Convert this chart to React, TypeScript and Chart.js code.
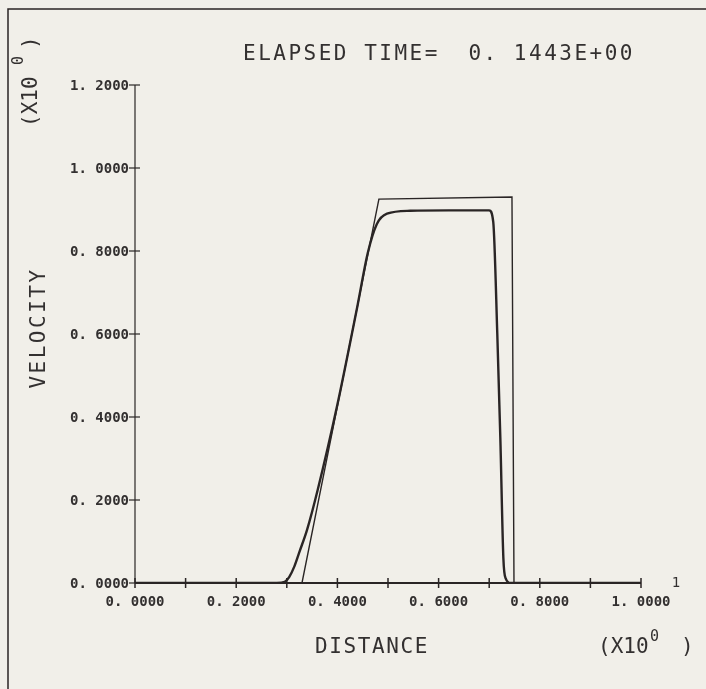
import React, { useEffect, useRef } from "react";
import { Chart, registerables } from "chart.js";

Chart.register(...registerables);

// Exact (analytic) solution - thin line
const exactX = [0, 0.33, 0.482, 0.745, 0.749, 1.0];
const exactY = [0, 0, 0.925, 0.93, 0, 0];

// Numerical solution - thick line
const numX = [0, 0.28, 0.296, 0.305, 0.315, 0.325, 0.34, 0.361, 0.40, 0.44, 0.46, 0.478, 0.498, 0.544, 0.62, 0.70, 0.708, 0.716, 0.722, 0.728, 0.733, 0.742, 1.0];
const numY = [0, 0, 0.003, 0.015, 0.04, 0.075, 0.128, 0.224, 0.43, 0.67, 0.795, 0.865, 0.89, 0.897, 0.898, 0.898, 0.87, 0.6, 0.35, 0.06, 0.01, 0, 0];

const xTickValues = [0, 0.1, 0.2, 0.3, 0.4, 0.5, 0.6, 0.7, 0.8, 0.9, 1.0];
const xTickLabels = ["0. 0000", "", "0. 2000", "", "0. 4000", "", "0. 6000", "", "0. 8000", "", "1. 0000"];
const yTickValues = [0, 0.2, 0.4, 0.6, 0.8, 1.0, 1.2];
const yTickLabels = ["0. 0000", "0. 2000", "0. 4000", "0. 6000", "0. 8000", "1. 0000", "1. 2000"];

const titleLeft = "ELAPSED TIME=";
const titleRight = "0. 1443E+00";
const xTitle = "DISTANCE";
const yTitle = "VELOCITY";
const expBase = "(X10";
const expPow = "0";
const expClose = ")";
const axisEndLabel = "1";

const INK = "#2a2525";
const BG = "#f1efe9";
const TXT = "#333030";
const MONO = '"DejaVu Sans Mono", monospace';

const decor = {
  id: "decor",
  beforeDraw(chart: any) {
    const ctx = chart.ctx;
    ctx.save();
    ctx.fillStyle = BG;
    ctx.fillRect(0, 0, chart.width, chart.height);
    ctx.strokeStyle = INK;
    ctx.lineWidth = 1.5;
    ctx.beginPath();
    ctx.moveTo(8, chart.height);
    ctx.lineTo(8, 9);
    ctx.lineTo(chart.width, 9);
    ctx.stroke();
    ctx.restore();
  },
  beforeDatasetsDraw(chart: any) {
    const ctx = chart.ctx;
    const xs = chart.scales.x;
    const ys = chart.scales.y;
    const x0 = xs.getPixelForValue(0);
    const x1 = xs.getPixelForValue(1);
    const y0 = ys.getPixelForValue(0);
    const yTop = ys.getPixelForValue(1.2);
    ctx.save();
    ctx.strokeStyle = INK;
    ctx.lineWidth = 1.2;
    ctx.beginPath();
    ctx.moveTo(x0, y0);
    ctx.lineTo(x0, yTop);
    ctx.stroke();
    yTickValues.forEach((v) => {
      const py = ys.getPixelForValue(v);
      ctx.beginPath();
      ctx.moveTo(x0 - 6, py);
      ctx.lineTo(x0 + 5, py);
      ctx.stroke();
    });
    ctx.lineWidth = 2.2;
    ctx.beginPath();
    ctx.moveTo(x0, y0);
    ctx.lineTo(x1, y0);
    ctx.stroke();
    ctx.lineWidth = 1.5;
    xTickValues.forEach((v) => {
      const px = xs.getPixelForValue(v);
      ctx.beginPath();
      ctx.moveTo(px, y0 - 5);
      ctx.lineTo(px, y0 + 5);
      ctx.stroke();
    });
    ctx.restore();
  },
  afterDraw(chart: any) {
    const ctx = chart.ctx;
    const xs = chart.scales.x;
    const ys = chart.scales.y;
    const x0 = xs.getPixelForValue(0);
    const x1 = xs.getPixelForValue(1);
    const y0 = ys.getPixelForValue(0);
    ctx.save();
    ctx.fillStyle = TXT;
    ctx.font = "bold 14px " + MONO;
    ctx.textBaseline = "middle";
    ctx.textAlign = "right";
    yTickValues.forEach((v, i) => {
      ctx.fillText(yTickLabels[i], x0 - 6, ys.getPixelForValue(v) + 1);
    });
    ctx.textAlign = "center";
    xTickValues.forEach((v, i) => {
      if (xTickLabels[i]) ctx.fillText(xTickLabels[i], xs.getPixelForValue(v), y0 + 19);
    });
    ctx.font = "14px " + MONO;
    ctx.fillText(axisEndLabel, x1 + 35, y0);

    ctx.font = "21px " + MONO;
    ctx.letterSpacing = "2.5px";
    ctx.textAlign = "left";
    ctx.fillText(titleLeft, 243, 55);
    ctx.textAlign = "right";
    ctx.fillText(titleRight, 635, 55);

    ctx.letterSpacing = "1.6px";
    ctx.textAlign = "center";
    ctx.fillText(xTitle, 372, 648);

    ctx.letterSpacing = "0px";
    ctx.textAlign = "left";
    ctx.fillText(expBase, 598, 648);
    ctx.font = "15px " + MONO;
    ctx.fillText(expPow, 650, 637);
    ctx.font = "21px " + MONO;
    ctx.fillText(expClose, 681, 648);

    ctx.save();
    ctx.translate(40, 328);
    ctx.rotate(-Math.PI / 2);
    ctx.textAlign = "center";
    ctx.letterSpacing = "2.5px";
    ctx.fillText(yTitle, 0, 0);
    ctx.restore();

    ctx.save();
    ctx.translate(32, 127);
    ctx.rotate(-Math.PI / 2);
    ctx.textAlign = "left";
    ctx.letterSpacing = "0px";
    ctx.fillText(expBase, 0, 0);
    ctx.font = "15px " + MONO;
    ctx.fillText(expPow, 62, -13);
    ctx.font = "21px " + MONO;
    ctx.fillText(expClose, 78, 0);
    ctx.restore();

    ctx.restore();
  },
};

export default function App() {
  const ref = useRef<HTMLCanvasElement>(null);
  useEffect(() => {
    document.body.style.margin = "0";
    const canvas = ref.current!;
    const chart = new Chart(canvas, {
      type: "line",
      data: {
        datasets: [
          {
            label: "exact",
            data: exactX.map((x, i) => ({ x, y: exactY[i] })),
            borderColor: INK,
            borderWidth: 1.4,
            pointRadius: 0,
            tension: 0,
            fill: false,
          },
          {
            label: "numerical",
            data: numX.map((x, i) => ({ x, y: numY[i] })),
            borderColor: INK,
            borderWidth: 2.4,
            pointRadius: 0,
            cubicInterpolationMode: "monotone",
            fill: false,
          },
        ],
      },
      options: {
        animation: false,
        responsive: false,
        devicePixelRatio: 1,
        layout: { padding: { left: 135, right: 65, top: 85, bottom: 106 } },
        plugins: { legend: { display: false }, tooltip: { enabled: false }, title: { display: false } },
        scales: {
          x: { type: "linear", min: 0, max: 1, display: false },
          y: { type: "linear", min: 0, max: 1.2, display: false },
        },
      },
      plugins: [decor],
    });
    return () => chart.destroy();
  }, []);
  return (
    <div style={{ position: "absolute", left: 0, top: 0, width: 706, height: 689 }}>
      <canvas ref={ref} width={706} height={689} style={{ display: "block", width: 706, height: 689 }} />
    </div>
  );
}
